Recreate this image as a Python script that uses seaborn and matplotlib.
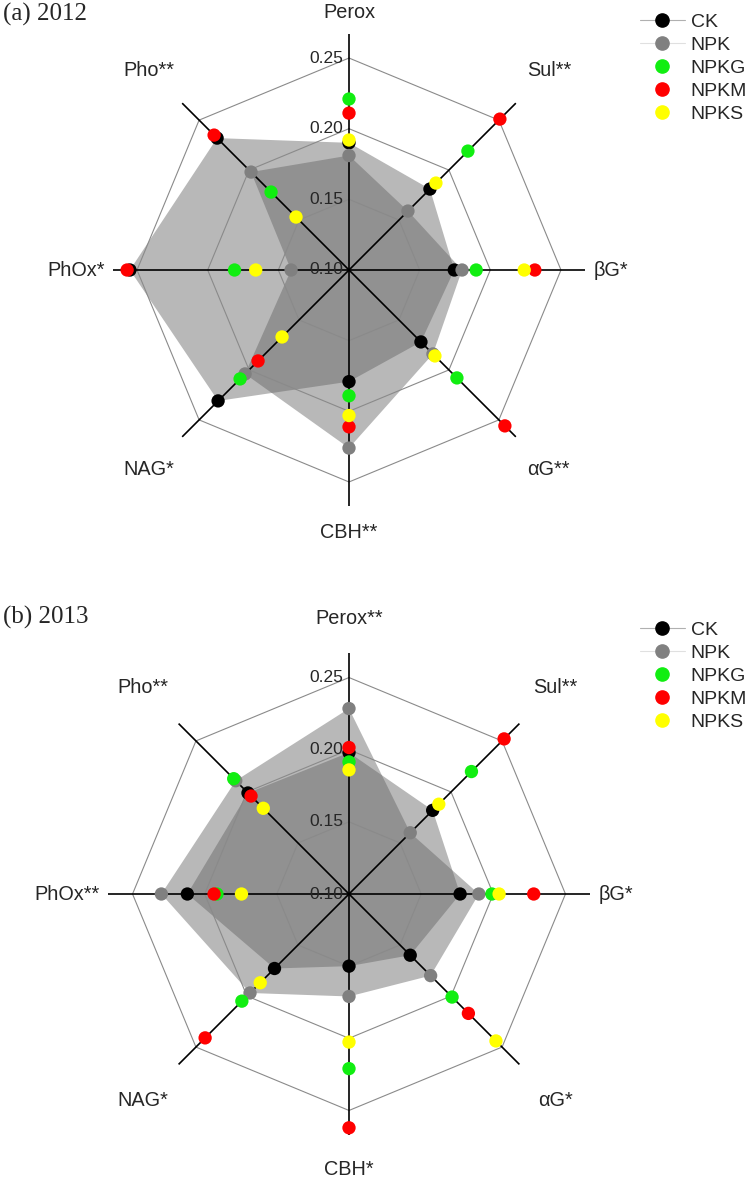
import numpy as np
import pandas as pd
import matplotlib
matplotlib.use("Agg")
import matplotlib.pyplot as plt
import seaborn as sns
from matplotlib.lines import Line2D

sns.set_style("white")
plt.rcParams["font.family"] = ["Liberation Sans", "DejaVu Sans"]

# ---------------- data ----------------
categories_2012 = ["Perox", "Sul**", "βG*", "αG**", "CBH**", "NAG*", "PhOx*", "Pho**"]
categories_2013 = ["Perox**", "Sul**", "βG*", "αG*", "CBH*", "NAG*", "PhOx**", "Pho**"]
treatments = ["CK", "NPK", "NPKG", "NPKM", "NPKS"]
colors = ["#000000", "#808080", "#11ee11", "#ff0000", "#ffff00"]
tick_values = [0.10, 0.15, 0.20, 0.25]
ring_values = [0.15, 0.20, 0.25]

ck_2012 = [0.190, 0.181, 0.1745, 0.172, 0.179, 0.231, 0.255, 0.232]
npk_2012 = [0.181, 0.159, 0.180, 0.184, 0.226, 0.204, 0.141, 0.198]
npkg_2012 = [0.221, 0.219, 0.190, 0.208, 0.189, 0.209, 0.181, 0.178]
npkm_2012 = [0.211, 0.251, 0.2315, 0.256, 0.211, 0.191, 0.257, 0.235]
npks_2012 = [0.192, 0.187, 0.224, 0.186, 0.203, 0.167, 0.166, 0.153]

ck_2013 = [0.198, 0.182, 0.177, 0.160, 0.150, 0.173, 0.212, 0.199]
npk_2013 = [0.2285, 0.160, 0.190, 0.180, 0.171, 0.197, 0.230, 0.211]
npkg_2013 = [0.1915, 0.220, 0.199, 0.201, 0.221, 0.205, 0.1915, 0.213]
npkm_2013 = [0.2015, 0.252, 0.228, 0.217, 0.262, 0.241, 0.1935, 0.196]
npks_2013 = [0.186, 0.188, 0.204, 0.244, 0.2026, 0.187, 0.1745, 0.184]

data_2012 = dict(zip(treatments, [ck_2012, npk_2012, npkg_2012, npkm_2012, npks_2012]))
data_2013 = dict(zip(treatments, [ck_2013, npk_2013, npkg_2013, npkm_2013, npks_2013]))

RMIN, RMAX = 0.10, 0.267

# label placement (radius, ha) per category, per panel
label_r_2012 = [0.282, 0.300, 0.273, 0.300, 0.286, 0.300, 0.273, 0.300]
label_r_2013 = [0.291, 0.302, 0.273, 0.302, 0.291, 0.302, 0.273, 0.302]
label_ha = ["center", "center", "left", "center", "center", "center", "right", "center"]


def draw_panel(fig, rect, cats, data, label_r, title, title_y, legend_top):
    ax = fig.add_axes(rect, projection="polar")
    n = len(cats)
    theta = np.linspace(0, 2 * np.pi, n, endpoint=False)
    theta_c = np.append(theta, theta[0])
    ax.set_theta_zero_location("N")
    ax.set_theta_direction(-1)

    # shaded polygons for CK and NPK
    for t in ["CK", "NPK"]:
        v = np.array(data[t])
        ax.fill(theta_c, np.append(v, v[0]), color="#626262", alpha=0.45,
                lw=0, zorder=1)

    # octagonal grid rings
    for rv in ring_values:
        ax.plot(theta_c, [rv] * (n + 1), color="#8a8a8a", lw=0.8, zorder=2)

    # spokes
    for th in theta:
        ax.plot([th, th], [RMIN, RMAX], color="black", lw=1.2, zorder=3)

    # markers
    rows = []
    for t in treatments:
        for th, v in zip(theta, data[t]):
            rows.append({"theta": th, "value": v, "treatment": t})
    df = pd.DataFrame(rows)
    sns.scatterplot(data=df, x="theta", y="value", hue="treatment",
                    hue_order=treatments, palette=dict(zip(treatments, colors)),
                    s=92, linewidth=0, legend=False, ax=ax, zorder=4)
    ax.set_xlabel("")
    ax.set_ylabel("")

    ax.set_xlim(0, 2 * np.pi)
    ax.set_ylim(RMIN, RMAX)
    ax.set_xticks([])
    ax.set_yticks([])
    ax.grid(False)
    ax.spines["polar"].set_visible(False)
    ax.set_facecolor("none")

    # radial tick labels
    for tv in tick_values:
        ax.annotate(f"{tv:.2f}", xy=(0, tv), xytext=(-4, 0),
                    textcoords="offset points", ha="right", va="center",
                    fontsize=12.5, zorder=6, annotation_clip=False)

    # category labels
    for th, lab, r, ha in zip(theta, cats, label_r, label_ha):
        ax.text(th, r, lab, ha=ha, va="center", fontsize=14.3, clip_on=False)

    fig.text(0.004, title_y, title, family=["Liberation Serif", "DejaVu Serif"],
             fontsize=18, ha="left", va="center")

    handles = [
        Line2D([0], [0], color="#b0b0b0", lw=0.8, marker="o", markersize=9.5,
               markerfacecolor=colors[0], markeredgecolor=colors[0]),
        Line2D([0], [0], color="#e0e0e0", lw=0.8, marker="o", markersize=9.5,
               markerfacecolor=colors[1], markeredgecolor=colors[1]),
    ]
    for c in colors[2:]:
        handles.append(Line2D([0], [0], color="none", lw=0, marker="o",
                              markersize=9.5, markerfacecolor=c,
                              markeredgecolor=c))
    fig.legend(handles, treatments, loc="upper left",
               bbox_to_anchor=(640 / 750, legend_top), bbox_transform=fig.transFigure,
               frameon=False, fontsize=14, handlelength=2.3, handletextpad=0.3,
               labelspacing=0.28, borderpad=0, borderaxespad=0)
    return ax


fig = plt.figure(figsize=(7.5, 11.81), dpi=100)
W, H = 750, 1181
# panel a: centre (349, 270), radius ~236 px
ra = 236
draw_panel(fig, [(349 - ra) / W, 1 - (270 + ra) / H, 2 * ra / W, 2 * ra / H],
           categories_2012, data_2012, label_r_2012, "(a) 2012", 1 - 14 / H, 1 - 13 / H)
# panel b: centre (349, 894), radius ~241 px
rb = 241
draw_panel(fig, [(349 - rb) / W, 1 - (894 + rb) / H, 2 * rb / W, 2 * rb / H],
           categories_2013, data_2013, label_r_2013, "(b) 2013", 1 - 617 / H, 1 - 621 / H)

fig.savefig("out.png", dpi=100, facecolor="white")
